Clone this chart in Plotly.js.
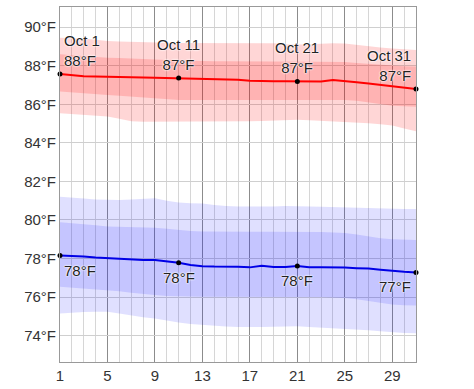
<!DOCTYPE html>
<html>
<head>
<meta charset="utf-8">
<script src="https://cdn.plot.ly/plotly-3.0.1.min.js"></script>
<style>html,body{margin:0;padding:0;background:#fff;}#chart{width:474px;height:389px;}</style>
</head>
<body>
<div id="chart"></div>
<script>
// Day of October
const days = Array.from({length: 31}, (_, i) => i + 1);
const monthName = "Oct";
const labelDays = [1, 11, 21, 31];
const xTickVals = [1, 5, 9, 13, 17, 21, 25, 29];

// Daily high temperature (°F)
const highMean = [87.58,87.52,87.46,87.44,87.42,87.41,87.40,87.39,87.38,87.37,87.36,87.32,87.32,87.32,87.31,87.28,87.22,87.20,87.20,87.20,87.19,87.19,87.19,87.26,87.22,87.15,87.08,87.01,86.93,86.86,86.80];
const highP90 = [89.45,89.45,89.42,89.35,89.28,89.26,89.25,89.25,89.24,89.20,89.18,89.18,89.17,89.16,89.16,89.15,89.17,89.18,89.17,89.12,89.10,89.12,89.16,89.17,89.15,89.08,89.00,88.95,88.90,88.85,88.82];
const highP75 = [88.60,88.55,88.50,88.45,88.42,88.40,88.38,88.36,88.35,88.30,88.27,88.25,88.24,88.24,88.23,88.22,88.22,88.22,88.22,88.22,88.22,88.22,88.22,88.22,88.20,88.15,88.10,88.05,88.00,87.98,87.96];
const highP25 = [86.67,86.62,86.56,86.52,86.49,86.45,86.40,86.35,86.30,86.26,86.23,86.23,86.23,86.23,86.23,86.23,86.23,86.23,86.23,86.23,86.23,86.23,86.23,86.23,86.22,86.18,86.10,86.00,85.93,85.90,85.88];
const highP10 = [85.54,85.50,85.45,85.40,85.37,85.25,85.12,85.10,85.10,85.10,85.10,85.10,85.10,85.12,85.12,85.12,85.12,85.14,85.16,85.18,85.20,85.18,85.15,85.12,85.10,85.08,85.02,84.96,84.90,84.75,84.60];

// Daily low temperature (°F)
const lowMean = [78.15,78.13,78.10,78.05,78.01,77.97,77.93,77.92,77.92,77.86,77.78,77.66,77.60,77.58,77.58,77.57,77.54,77.63,77.56,77.56,77.61,77.55,77.54,77.54,77.53,77.50,77.48,77.42,77.36,77.31,77.28];
const lowP90 = [81.21,81.18,81.12,81.06,81.04,81.04,81.06,81.10,81.13,81.00,80.90,80.87,80.85,80.78,80.72,80.70,80.69,80.69,80.70,80.72,80.72,80.70,80.68,80.66,80.65,80.62,80.60,80.58,80.57,80.57,80.57];
const lowP75 = [79.88,79.84,79.78,79.72,79.66,79.65,79.64,79.62,79.60,79.55,79.48,79.43,79.40,79.39,79.39,79.39,79.39,79.39,79.39,79.39,79.39,79.39,79.37,79.35,79.32,79.25,79.15,79.05,79.00,78.97,78.96];
const lowP25 = [76.54,76.50,76.45,76.40,76.36,76.30,76.22,76.15,76.10,76.06,76.04,76.02,76.02,76.02,76.02,76.02,76.02,76.02,76.02,76.02,76.02,76.02,76.00,75.98,75.95,75.88,75.80,75.70,75.62,75.58,75.56];
const lowP10 = [75.15,75.20,75.23,75.24,75.24,75.15,75.05,74.95,74.89,74.78,74.68,74.60,74.55,74.50,74.47,74.45,74.44,74.45,74.46,74.48,74.48,74.45,74.42,74.38,74.36,74.32,74.28,74.22,74.17,74.14,74.12];

const redBand = 'rgba(255,0,0,0.16)';
const blueBand = 'rgba(20,20,255,0.135)';
const noLine = {width: 0, color: 'rgba(0,0,0,0)'};

function band(lo, hi, color) {
  return [
    {x: days, y: lo, type: 'scatter', mode: 'lines', line: noLine, hoverinfo: 'skip'},
    {x: days, y: hi, type: 'scatter', mode: 'lines', line: noLine, fill: 'tonexty', fillcolor: color, hoverinfo: 'skip'}
  ];
}
function pick(arr) { return labelDays.map(d => arr[d - 1]); }

const traces = [
  ...band(highP10, highP90, redBand),
  ...band(highP25, highP75, redBand),
  ...band(lowP10, lowP90, blueBand),
  ...band(lowP25, lowP75, blueBand),
  {x: days, y: highMean, type: 'scatter', mode: 'lines', line: {color: '#ff0000', width: 2}},
  {x: days, y: lowMean, type: 'scatter', mode: 'lines', line: {color: '#0000e6', width: 2}},
  {x: labelDays, y: pick(highMean), type: 'scatter', mode: 'markers', marker: {color: '#000', size: 5}, cliponaxis: false},
  {x: labelDays, y: pick(lowMean), type: 'scatter', mode: 'markers', marker: {color: '#000', size: 5}, cliponaxis: false}
];

const annFont = {family: 'Liberation Sans, Arial, sans-serif', size: 15, color: '#222',
  shadow: '0 0 2px #fff, 0 0 2px #fff, 0 0 1px #fff'};
const annotations = [];
labelDays.forEach((d, i) => {
  const first = i === 0, last = i === labelDays.length - 1;
  const xa = first ? 'left' : (last ? 'right' : 'center');
  const xs = first ? 2 : (last ? -3 : 0);
  annotations.push({
    x: d, y: highMean[d - 1], xref: 'x', yref: 'y',
    text: monthName + ' ' + d + '<br>' + Math.round(highMean[d - 1]) + '°F',
    showarrow: false, xanchor: xa, yanchor: 'bottom', align: first ? 'left' : (last ? 'right' : 'center'),
    xshift: xs, yshift: 3, font: annFont
  });
  annotations.push({
    x: d, y: lowMean[d - 1], xref: 'x', yref: 'y',
    text: Math.round(lowMean[d - 1]) + '°F',
    showarrow: false, xanchor: xa, yanchor: 'top', align: 'center',
    xshift: xs, yshift: -4, font: annFont
  });
});

const layout = {
  width: 474, height: 389,
  margin: {l: 60, r: 58, t: 7, b: 27, pad: 0},
  paper_bgcolor: '#fff', plot_bgcolor: '#fff',
  showlegend: false,
  font: {family: 'Liberation Sans, Arial, sans-serif', size: 15, color: '#333'},
  xaxis: {
    range: [1, 31], tickvals: xTickVals, ticks: '', showgrid: true, gridcolor: '#8c8c8c', gridwidth: 1,
    minor: {dtick: 1, tick0: 1, showgrid: true, gridcolor: '#d6d6d6', gridwidth: 1, ticks: ''},
    showline: true, mirror: true, linecolor: '#999', linewidth: 1, zeroline: false,
    tickfont: {size: 15, color: '#333'}, fixedrange: true
  },
  yaxis: {
    range: [72.63, 91.05], tick0: 74, dtick: 2, ticksuffix: '°F', ticks: '',
    showgrid: true, gridcolor: '#cfcfcf', gridwidth: 1,
    showline: true, mirror: true, linecolor: '#999', linewidth: 1, zeroline: false,
    tickfont: {size: 15, color: '#333'}, fixedrange: true
  },
  annotations: annotations
};

Plotly.newPlot('chart', traces, layout, {staticPlot: true, displayModeBar: false});
</script>
</body>
</html>
